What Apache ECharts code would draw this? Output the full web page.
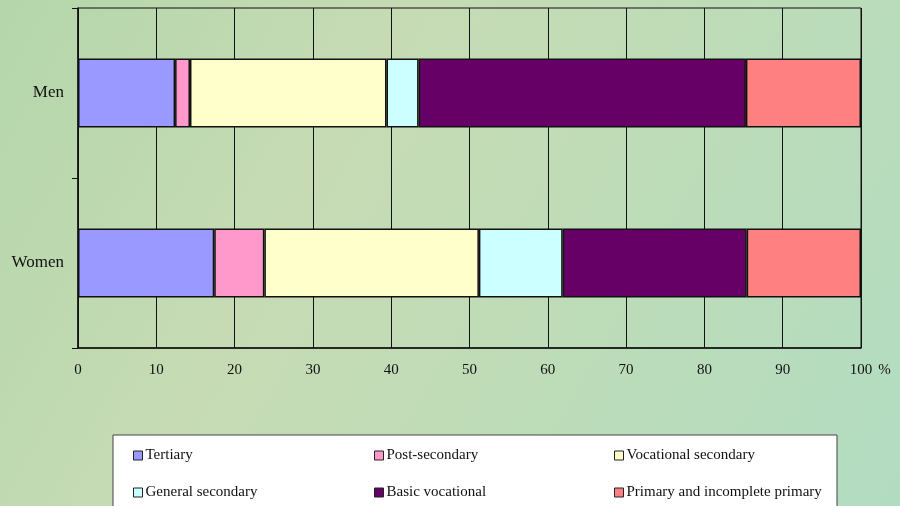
<!DOCTYPE html>
<html>
<head>
<meta charset="utf-8">
<title>Educational attainment by sex</title>
<script src="https://cdn.jsdelivr.net/npm/echarts@6/dist/echarts.min.js"></script>
<style>
  html, body { margin: 0; padding: 0; }
  #chart { width: 900px; height: 506px; }
</style>
</head>
<body>
<div id="chart"></div>
<script>
// Population groups (top to bottom)
const groups = ['Men', 'Women'];

// Share of each education level, in percent
const tertiary            = [12.4, 17.4];
const postSecondary       = [1.9, 6.4];
const vocationalSecondary = [25.1, 27.4];
const generalSecondary    = [4.1, 10.7];
const basicVocational     = [41.8, 23.5];
const primary             = [14.7, 14.6];

const levelNames = [
  'Tertiary', 'Post-secondary', 'Vocational secondary',
  'General secondary', 'Basic vocational', 'Primary and incomplete primary'
];
const levelValues = [tertiary, postSecondary, vocationalSecondary, generalSecondary, basicVocational, primary];
const levelColors = ['#9999ff', '#ff99cc', '#ffffcc', '#ccffff', '#660066', '#ff8080'];

const serif = '"Liberation Serif", "DejaVu Serif", serif';

const chart = echarts.init(document.getElementById('chart'));

const series = levelNames.map((name, i) => ({
  name,
  type: 'bar',
  stack: 'total',
  data: levelValues[i],
  barWidth: 69,
  itemStyle: { color: levelColors[i], borderColor: '#111', borderWidth: 1.5 },
  emphasis: { disabled: true }
}));

// Legend laid out as a 3 x 2 table inside a framed box
const columnLeft = [133, 374, 614];
const rowTop = [448, 485];
const legends = levelNames.map((name, i) => ({
  data: [name],
  left: columnLeft[i % 3],
  top: rowTop[Math.floor(i / 3)],
  itemWidth: 9,
  itemHeight: 9,
  icon: 'rect',
  selectedMode: false,
  padding: 0,
  itemStyle: { borderColor: '#222', borderWidth: 1 },
  textStyle: { fontFamily: serif, fontSize: 15, color: '#111', padding: [0, 0, 0, -2] }
}));

chart.setOption({
  backgroundColor: {
    type: 'linear', x: 0, y: 0, x2: 1, y2: 1,
    colorStops: [
      { offset: 0, color: '#b4d6aa' },
      { offset: 0.35, color: '#c6dbb4' },
      { offset: 0.65, color: '#bddcb8' },
      { offset: 1, color: '#b2dcc1' }
    ]
  },
  animation: false,
  graphic: [
    {
      type: 'rect',
      shape: { x: 113, y: 435, width: 724, height: 100 },
      style: { fill: '#ffffff', stroke: '#444', lineWidth: 1 },
      z: 0
    }
  ],
  legend: legends,
  grid: {
    left: 78, right: 39, top: 8, bottom: 158,
    show: true, borderColor: '#111', borderWidth: 1, backgroundColor: 'transparent'
  },
  xAxis: {
    type: 'value',
    min: 0, max: 100, interval: 10,
    name: '%',
    nameLocation: 'end',
    nameGap: 12,
    nameTextStyle: { fontFamily: serif, fontSize: 15, color: '#111', verticalAlign: 'top', padding: [15, 0, 0, 0] },
    axisLine: { show: true, lineStyle: { color: '#111', width: 1.5 } },
    axisTick: { show: false },
    axisLabel: { fontFamily: serif, fontSize: 15, color: '#111', margin: 15 },
    splitLine: { show: true, lineStyle: { color: '#111', width: 1 } }
  },
  yAxis: {
    type: 'category',
    data: groups,
    inverse: true,
    axisLine: { show: true, lineStyle: { color: '#111', width: 1.5 } },
    axisTick: { show: true, length: 6, lineStyle: { color: '#111' } },
    axisLabel: { fontFamily: serif, fontSize: 17, color: '#111', margin: 14, padding: [4, 0, 0, 0] },
    splitLine: { show: false }
  },
  series
});
</script>
</body>
</html>
